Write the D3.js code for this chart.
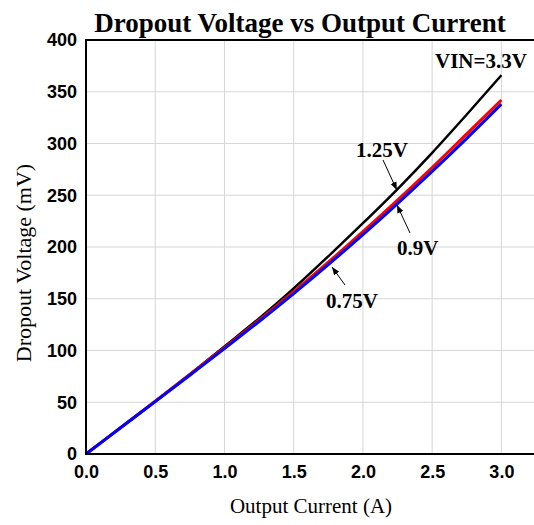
<!DOCTYPE html>
<html>
<head>
<meta charset="utf-8">
<script src="https://cdn.jsdelivr.net/npm/d3@7"></script>
<style>
  html, body { margin: 0; padding: 0; background: #fff; }
  svg { display: block; }
</style>
</head>
<body>
<script>
// Output current (A) and dropout voltage (mV) for each input voltage
const current = [0, 0.25, 0.5, 0.75, 1.0, 1.25, 1.5, 1.75, 2.0, 2.25, 2.5, 2.75, 3.0];
const vin330 = [0, 25.5, 51, 77, 104, 131, 160, 191, 223, 256, 291, 328, 366];
const vin090 = [0, 25.5, 51, 76.8, 102.8, 129.3, 156.8, 185.3, 214.8, 245.3, 276.8, 309.3, 342];
const vin075 = [0, 25.3, 50.6, 76.1, 101.8, 128, 155, 183, 212, 242, 273, 305, 338];
const vin125 = vin330; // the 1.25V curve lies on top of the 3.3V curve

const xTicks = [0, 0.5, 1.0, 1.5, 2.0, 2.5, 3.0];
const yTicks = [0, 50, 100, 150, 200, 250, 300, 350, 400];

const W = 534, H = 525;
const margin = { left: 86, top: 40, right: -2, bottom: 71 };

const svg = d3.select("body").append("svg")
  .attr("width", W).attr("height", H)
  .style("background", "#fff");

const x = d3.scaleLinear().domain([0, 3.25]).range([margin.left, W - margin.right]);
const y = d3.scaleLinear().domain([0, 400]).range([H - margin.bottom, margin.top]);

const defs = svg.append("defs");
defs.append("clipPath").attr("id", "plot")
  .append("rect")
  .attr("x", x(0)).attr("y", y(400))
  .attr("width", x(3.25) - x(0)).attr("height", y(0) - y(400));
defs.append("marker").attr("id", "arrow")
  .attr("viewBox", "0 0 10 10").attr("refX", 10).attr("refY", 5)
  .attr("markerWidth", 8).attr("markerHeight", 8)
  .attr("markerUnits", "userSpaceOnUse")
  .attr("orient", "auto")
  .append("path").attr("d", "M0,1 L10,5 L0,9 Z").attr("fill", "#000");

// grid
const grid = svg.append("g");
grid.selectAll("line.v").data(xTicks.filter(d => d > 0)).join("line")
  .attr("x1", d => x(d)).attr("x2", d => x(d))
  .attr("y1", y(0)).attr("y2", y(400))
  .attr("stroke", "#d6d6d6").attr("stroke-width", 1);
grid.selectAll("line.h").data(yTicks.filter(d => d > 0 && d < 400)).join("line")
  .attr("x1", x(0)).attr("x2", x(3.25))
  .attr("y1", d => y(d)).attr("y2", d => y(d))
  .attr("stroke", "#d6d6d6").attr("stroke-width", 1);

// axes (labels only, no tick marks)
const tickFont = "'Liberation Sans', Arial, sans-serif";
const xAxis = svg.append("g").attr("transform", `translate(0,${y(0)})`)
  .call(d3.axisBottom(x).tickValues(xTicks).tickFormat(d3.format(".1f")).tickSize(0).tickPadding(11));
const yAxis = svg.append("g").attr("transform", `translate(${x(0)},0)`)
  .call(d3.axisLeft(y).tickValues(yTicks).tickFormat(d3.format("d")).tickSize(0).tickPadding(9));
[xAxis, yAxis].forEach(g => {
  g.select(".domain").remove();
  g.selectAll("text")
    .attr("font-family", tickFont).attr("font-weight", "bold")
    .attr("font-size", 18).attr("fill", "#000");
});

// curves
const line = d3.line().x((d, i) => x(current[i])).y(d => y(d)).curve(d3.curveMonotoneX);
const curves = svg.append("g").attr("clip-path", "url(#plot)");
[
  { values: vin330, color: "#000000", width: 2.5 },
  { values: vin090, color: "#ff0000", width: 3 },
  { values: vin075, color: "#0000ff", width: 3 }
].forEach(s => {
  curves.append("path").datum(s.values)
    .attr("d", line).attr("fill", "none")
    .attr("stroke", s.color).attr("stroke-width", s.width)
    .attr("stroke-linejoin", "round");
});

// frame
svg.append("path")
  .attr("d", `M${x(3.25)},${y(400)} H${x(0)} V${y(0)} H${x(3.25)}`)
  .attr("fill", "none").attr("stroke", "#000").attr("stroke-width", 2);

// labels and arrows
const serif = "'Liberation Serif', 'Times New Roman', serif";
const notes = [
  { text: "VIN=3.3V", tx: 435, ty: 68 },
  { text: "1.25V", tx: 356, ty: 157, arrow: [383, 160, x(2.245), y(vin125[9]) + 1] },
  { text: "0.9V", tx: 397, ty: 255, arrow: [410, 233, 397, 205] },
  { text: "0.75V", tx: 326, ty: 308, arrow: [345, 285, 332, 267] }
];
notes.forEach(n => {
  svg.append("text").attr("x", n.tx).attr("y", n.ty)
    .attr("font-family", serif).attr("font-weight", "bold")
    .attr("font-size", 21).attr("fill", "#000").text(n.text);
  if (n.arrow) {
    svg.append("line")
      .attr("x1", n.arrow[0]).attr("y1", n.arrow[1])
      .attr("x2", n.arrow[2]).attr("y2", n.arrow[3])
      .attr("stroke", "#000").attr("stroke-width", 1)
      .attr("marker-end", "url(#arrow)");
  }
});

// titles
svg.append("text").attr("x", 300).attr("y", 32).attr("text-anchor", "middle")
  .attr("font-family", serif).attr("font-weight", "bold").attr("font-size", 27)
  .text("Dropout Voltage vs Output Current");
svg.append("text").attr("x", 311).attr("y", 513).attr("text-anchor", "middle")
  .attr("font-family", serif).attr("font-size", 21)
  .text("Output Current (A)");
svg.append("text")
  .attr("transform", `translate(31,${(y(0) + y(400)) / 2 + 16}) rotate(-90)`)
  .attr("text-anchor", "middle")
  .attr("font-family", serif).attr("font-size", 22)
  .text("Dropout Voltage (mV)");
</script>
</body>
</html>
